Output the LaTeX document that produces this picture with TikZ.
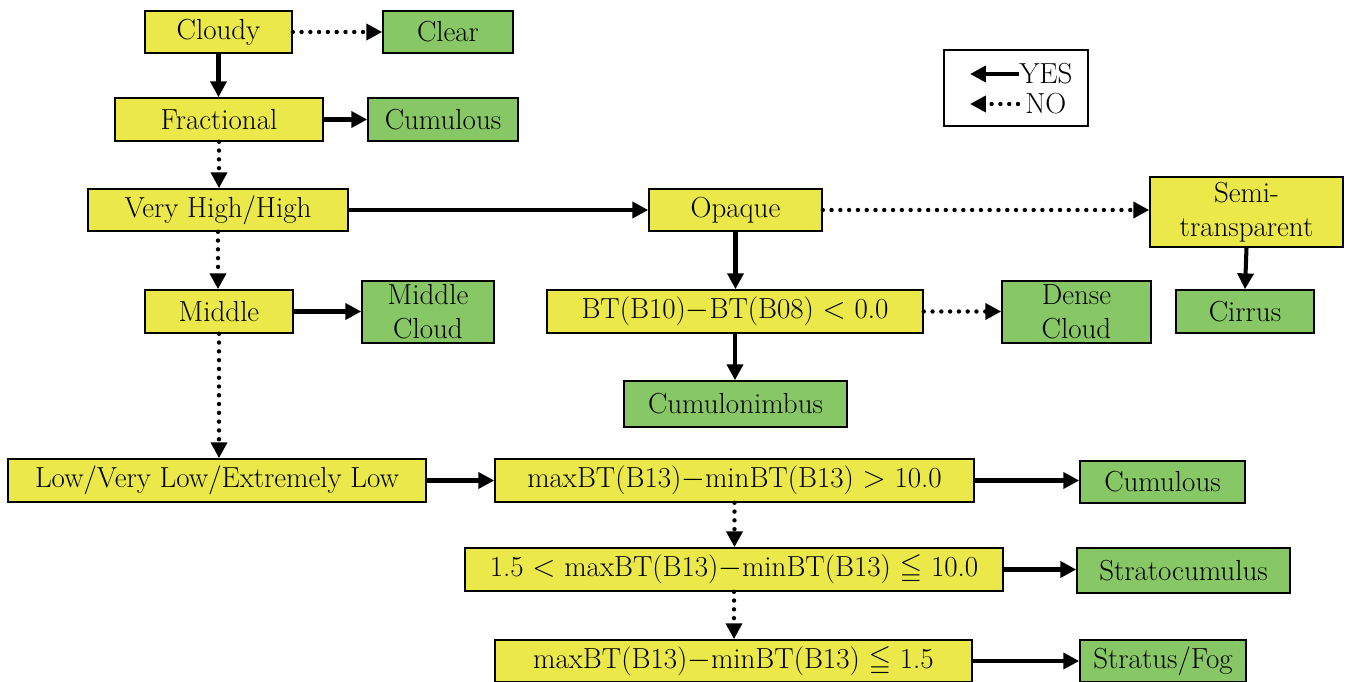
\documentclass[tikz,border=0pt]{standalone}
\usepackage{amssymb}
\usetikzlibrary{arrows.meta}
\definecolor{ybox}{HTML}{EBE84A}
\definecolor{gbox}{HTML}{88C765}
\tikzset{
  px/.style={x=0.02cm,y=-0.02cm},
  box/.style={draw=black,line width=0.9pt,inner sep=0pt,font=\fontsize{16.5}{19.5}\selectfont,align=center},
  ynode/.style={box,fill=ybox},
  gnode/.style={box,fill=gbox},
  yes/.style={line width=2.3pt,-{Triangle[length=9pt,width=9pt]}},
  no/.style={line width=2.5pt,line cap=round,dash pattern=on 0pt off 5pt,-{Triangle[length=9pt,width=9pt]}},
}
\begin{document}
\begin{tikzpicture}[px]
\useasboundingbox (0,0) rectangle (1346,682);
\node[ynode,minimum width=2.94cm,minimum height=0.84cm] (cloudy) at (218.5,32) {Cloudy};
\node[gnode,minimum width=2.60cm,minimum height=0.84cm] (clear) at (448,32) {Clear};
\node[ynode,minimum width=4.16cm,minimum height=0.86cm] (frac) at (219,119.5) {Fractional};
\node[gnode,minimum width=3.00cm,minimum height=0.86cm] (cum1) at (443,119.5) {Cumulous};
\node[ynode,minimum width=5.20cm,minimum height=0.84cm] (vhigh) at (218,210) {Very High/High};
\node[ynode,minimum width=3.46cm,minimum height=0.84cm] (opaque) at (735.5,210) {Opaque};
\node[ynode,minimum width=3.86cm,minimum height=1.40cm] (semi) at (1246.5,212) {Semi-\\transparent};
\node[ynode,minimum width=2.96cm,minimum height=0.86cm] (middle) at (219,311.5) {Middle};
\node[gnode,minimum width=2.64cm,minimum height=1.24cm] (mcloud) at (428,312) {Middle\\Cloud};
\node[ynode,minimum width=7.52cm,minimum height=0.86cm] (bt) at (735,311.5) {BT(B10)$-$BT(B08) $<$ 0.0};
\node[gnode,minimum width=2.98cm,minimum height=1.24cm] (dense) at (1076.5,312) {Dense\\Cloud};
\node[gnode,minimum width=2.76cm,minimum height=0.86cm] (cirrus) at (1245,311.5) {Cirrus};
\node[gnode,minimum width=4.46cm,minimum height=0.92cm] (cumnb) at (735.5,404) {Cumulonimbus};
\node[ynode,minimum width=8.36cm,minimum height=0.86cm] (low) at (217,480.5) {Low/Very Low/Extremely Low};
\node[ynode,minimum width=9.58cm,minimum height=0.86cm] (m1) at (734.5,480.5) {maxBT(B13)$-$minBT(B13) $>$ 10.0};
\node[gnode,minimum width=3.30cm,minimum height=0.84cm] (cum2) at (1162.5,482) {Cumulous};
\node[ynode,minimum width=10.76cm,minimum height=0.86cm] (m2) at (734,569.5) {1.5 $<$ maxBT(B13)$-$minBT(B13) $\leqq$ 10.0};
\node[gnode,minimum width=4.26cm,minimum height=0.90cm] (strcu) at (1183.5,570.5) {Stratocumulus};
\node[ynode,minimum width=9.54cm,minimum height=0.84cm] (m3) at (733.5,661) {maxBT(B13)$-$minBT(B13) $\leqq$ 1.5};
\node[gnode,minimum width=3.32cm,minimum height=0.84cm] (strat) at (1163,661) {Stratus/Fog};
% legend
\node[draw=black,line width=0.9pt,minimum width=2.88cm,minimum height=1.52cm] (legend) at (1016,88) {};
\node[font=\fontsize{16.5}{19.5}\selectfont,anchor=west,inner sep=0pt] (yes) at (1019,74) {YES};
\node[font=\fontsize{16.5}{19.5}\selectfont,anchor=west,inner sep=0pt] (no) at (1025,104) {NO};
\coordinate (yesend) at (970,74);
\coordinate (noend) at (970,104);
\coordinate (nostart) at (1018,104);
\draw[yes] (yes.west) -- (yesend);
\draw[no] (nostart) -- (noend);
% connectors
\draw[no] (cloudy.east) -- (clear.west |- cloudy.east);
\draw[yes] (cloudy.south) -- (cloudy.south |- frac.north);
\draw[yes] (frac.east) -- (cum1.west |- frac.east);
\draw[no] (frac.south) -- (frac.south |- vhigh.north);
\draw[yes] (vhigh.east) -- (opaque.west |- vhigh.east);
\draw[no] (opaque.east) -- (semi.west |- opaque.east);
\draw[yes] (opaque.south) -- (opaque.south |- bt.north);
\draw[yes] (semi.south) -- (cirrus.north);
\draw[no] (vhigh.south) -- (vhigh.south |- middle.north);
\draw[yes] (middle.east) -- (mcloud.west |- middle.east);
\draw[no] (bt.east) -- (dense.west |- bt.east);
\draw[yes] (bt.south) -- (bt.south |- cumnb.north);
\draw[no] (middle.south) -- (middle.south |- low.north);
\draw[yes] (low.east) -- (m1.west |- low.east);
\draw[yes] (m1.east) -- (cum2.west |- m1.east);
\draw[no] (m1.south) -- (m1.south |- m2.north);
\draw[yes] (m2.east) -- (strcu.west |- m2.east);
\draw[no] (m2.south) -- (m2.south |- m3.north);
\draw[yes] (m3.east) -- (strat.west |- m3.east);
\end{tikzpicture}
\end{document}
